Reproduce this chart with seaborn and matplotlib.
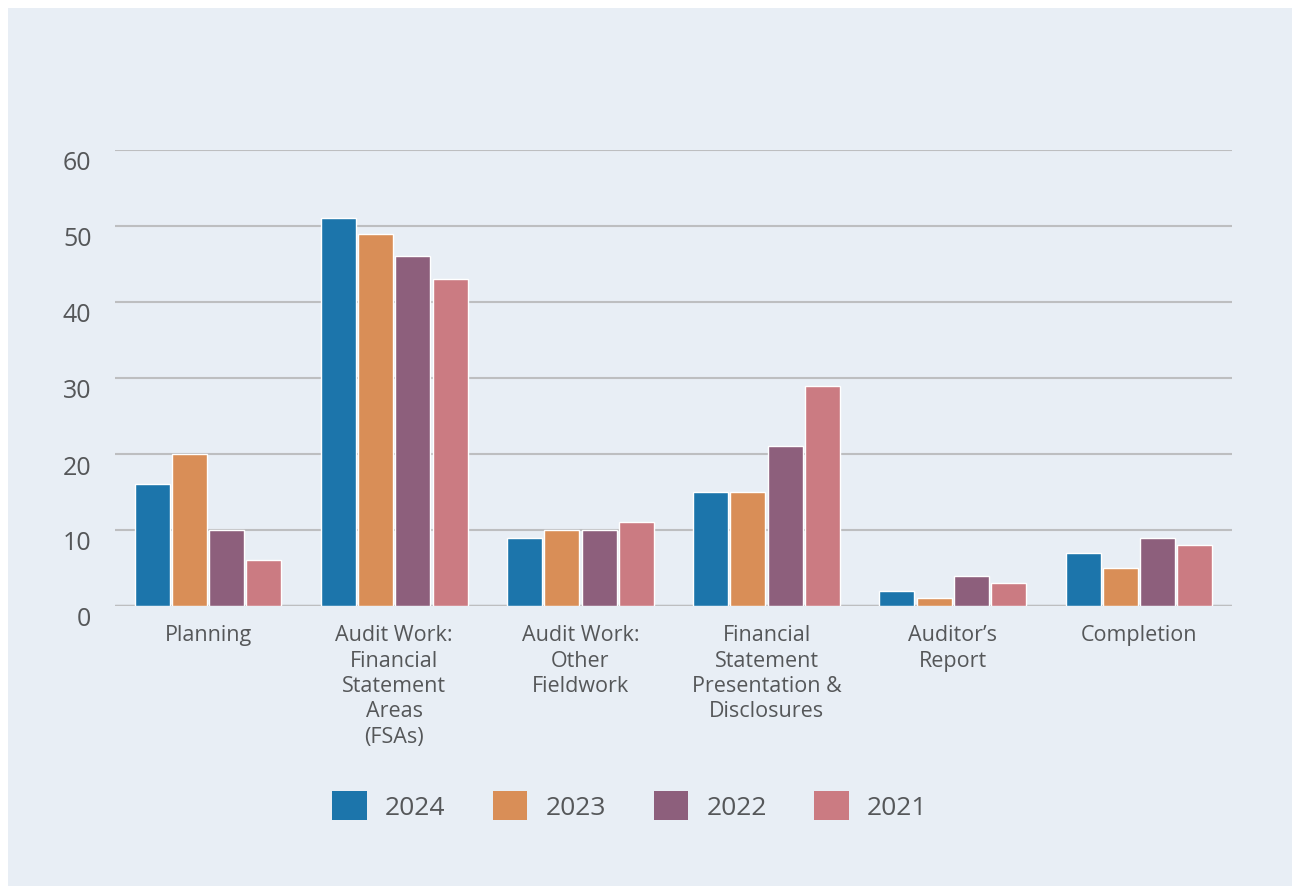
import numpy as np
import pandas as pd
import matplotlib
matplotlib.use("Agg")
import matplotlib.pyplot as plt
import matplotlib.transforms as mtransforms
from matplotlib.patches import Rectangle
import seaborn as sns

# Dados
categorias = ["Planning", "Audit Work:\nFinancial\nStatement\nAreas\n(FSAs)",
              "Audit Work:\nOther\nFieldwork", "Financial\nStatement\nPresentation &\nDisclosures",
              "Auditor’s\nReport", "Completion"]
anos = ["2024", "2023", "2022", "2021"]
valores_2024 = [16, 51, 9, 15, 2, 7]
valores_2023 = [20, 49, 10, 15, 1, 5]
valores_2022 = [10, 46, 10, 21, 4, 9]
valores_2021 = [6, 43, 11, 29, 3, 8]
cores = ["#1C75AB", "#D98E57", "#8D5F7C", "#CB7B82"]

FUNDO = "#E8EEF5"
TEXTO = "#555759"

df = pd.DataFrame({
    "Categoria": categorias * 4,
    "Ano": [a for a in anos for _ in categorias],
    "Valor": valores_2024 + valores_2023 + valores_2022 + valores_2021,
})

sns.set_theme(style="white")
plt.rcParams["font.family"] = ["Open Sans", "DejaVu Sans"]

fig = plt.figure(figsize=(12.92, 8.86), dpi=100, facecolor="#FFFFFF")
fig.patches.append(Rectangle((8 / 1292, 0), 1, 1 - 8 / 886, transform=fig.transFigure,
                             facecolor=FUNDO, edgecolor="none", zorder=-5))
ax = fig.add_axes([115 / 1292, 1 - 606 / 886, (1232 - 115) / 1292, (606 - 150) / 886])
ax.set_zorder(2)
ax.set_facecolor(FUNDO)

sns.barplot(data=df, x="Categoria", y="Valor", hue="Ano", hue_order=anos,
            palette=cores, width=0.8, gap=0.06, saturation=1, ax=ax, legend=False)

ax.set_ylim(0, 60)
ax.set_xlim(-0.5, 5.5)
ax.set_yticks(np.arange(0, 61, 10))
ax.yaxis.grid(True, color="#BDBEC0", linewidth=1.5)
ax.set_axisbelow(True)
for s in ax.spines.values():
    s.set_visible(False)
ax.axhline(0, color="#BDBEC0", linewidth=2.5, zorder=0)
ax.set_xlabel("")
ax.set_ylabel("")
ax.tick_params(axis="y", length=0, pad=17, labelsize=18, labelcolor=TEXTO)
ax.tick_params(axis="x", length=0, pad=14, labelsize=15.5, labelcolor=TEXTO)
deslocamento = mtransforms.ScaledTranslation(0, -11 / 100, fig.dpi_scale_trans)
for lbl in ax.get_yticklabels():
    lbl.set_transform(lbl.get_transform() + deslocamento)
for lbl in ax.get_xticklabels():
    lbl.set_linespacing(1.27)
    lbl.set_va("top")

alcas = [Rectangle((0, 0), 1, 1, facecolor=c, edgecolor="none") for c in cores]
leg = fig.legend(alcas, anos, loc="center", bbox_to_anchor=(630 / 1292, 1 - 806 / 886),
                 ncol=4, frameon=False, fontsize=19, handlelength=1.3, handleheight=1.3,
                 handletextpad=0.7, columnspacing=1.8, labelcolor=TEXTO)

fig.savefig("out.png", dpi=100, facecolor=fig.get_facecolor())
